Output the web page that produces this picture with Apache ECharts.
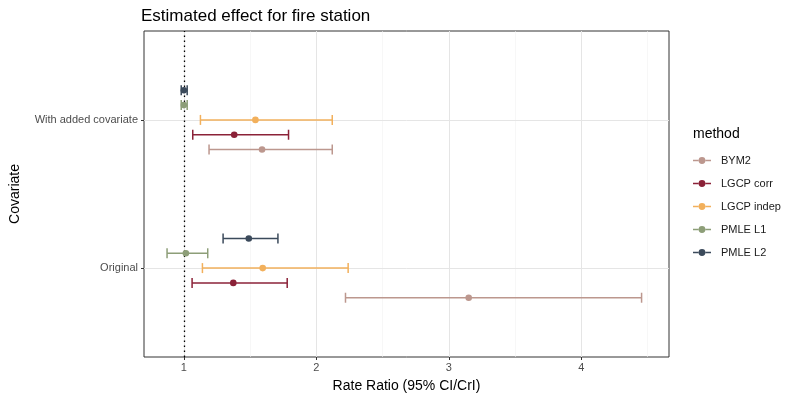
<!DOCTYPE html>
<html>
<head>
<meta charset="utf-8">
<script src="https://cdn.jsdelivr.net/npm/echarts@6/dist/echarts.min.js"></script>
<style>
html,body{margin:0;padding:0;background:#fff;}
#chart{width:800px;height:400px;}
</style>
</head>
<body>
<div id="chart"></div>
<script>
// covariate levels, bottom to top
var covariates = ['Original', 'With added covariate'];
var methods = ['BYM2', 'LGCP corr', 'LGCP indep', 'PMLE L1', 'PMLE L2'];
var colors = ['#bc978e', '#8b2238', '#f2b05c', '#8d9e78', '#3b4a5b'];

// per method: [Original, With added covariate]
var estimate = [
  [3.15, 1.59],
  [1.373, 1.38],
  [1.595, 1.54],
  [1.015, 1.0],
  [1.49, 1.0]
];
var lower = [
  [2.22, 1.19],
  [1.062, 1.067],
  [1.14, 1.125],
  [0.873, 0.98],
  [1.296, 0.98]
];
var upper = [
  [4.455, 2.12],
  [1.78, 1.79],
  [2.24, 2.12],
  [1.18, 1.025],
  [1.71, 1.025]
];
var xTicks = [1, 2, 3, 4];
var xMinor = [1.5, 2.5, 3.5, 4.5];

var font = 'Liberation Sans, Arial, sans-serif';
var dodge = 0.1;

function renderBar(params, api) {
  var lo = api.coord([api.value(0), api.value(3)]);
  var hi = api.coord([api.value(1), api.value(3)]);
  var pt = api.coord([api.value(2), api.value(3)]);
  var col = api.visual('color');
  var cap = 5;
  var ls = {stroke: col, lineWidth: 1.5};
  return {
    type: 'group',
    children: [
      {type: 'line', shape: {x1: lo[0], y1: lo[1], x2: hi[0], y2: hi[1]}, style: ls},
      {type: 'line', shape: {x1: lo[0], y1: lo[1] - cap, x2: lo[0], y2: lo[1] + cap}, style: ls},
      {type: 'line', shape: {x1: hi[0], y1: hi[1] - cap, x2: hi[0], y2: hi[1] + cap}, style: ls},
      {type: 'circle', shape: {cx: pt[0], cy: pt[1], r: 3.3}, style: {fill: col}}
    ]
  };
}

var series = [];
methods.forEach(function (m, i) {
  var off = (i - 2) * dodge;
  var data = covariates.map(function (c, j) {
    return [lower[i][j], upper[i][j], estimate[i][j], j + 1 + off];
  });
  series.push({
    type: 'custom',
    name: m,
    color: colors[i],
    renderItem: renderBar,
    encode: {x: [0, 1, 2], y: 3},
    data: data,
    z: 5
  });
});

// grid lines and reference line
var gridLines = [];
xMinor.forEach(function (v) {
  gridLines.push({xAxis: v, lineStyle: {color: '#f2f2f2', width: 0.6, type: 'solid'}});
});
xTicks.forEach(function (v) {
  gridLines.push({xAxis: v, lineStyle: {color: '#e5e5e5', width: 1, type: 'solid'}});
});
covariates.forEach(function (c, j) {
  gridLines.push({yAxis: j + 1, lineStyle: {color: '#e5e5e5', width: 1, type: 'solid'}});
});
series.unshift({
  type: 'line',
  data: [],
  silent: true,
  z: 1,
  markLine: {
    silent: true,
    symbol: 'none',
    animation: false,
    label: {show: false},
    data: gridLines
  }
});
series.push({
  type: 'line',
  data: [],
  silent: true,
  z: 3,
  markLine: {
    silent: true,
    symbol: 'none',
    animation: false,
    label: {show: false},
    data: [{xAxis: 1, lineStyle: {color: '#000', width: 1.3, type: [1.5, 3.5]}}]
  }
});

// line through a dot, drawn as separate pieces so nothing is hollow
var legendIcon = 'path://M0,2.6h5.8v1.6h-5.8z M12.2,2.6h5.8v1.6h-5.8z M5.6,3.4a3.4,3.4 0 1,0 6.8,0a3.4,3.4 0 1,0 -6.8,0z';

var option = {
  animation: false,
  textStyle: {fontFamily: font},
  title: [
    {text: 'Estimated effect for fire station', left: 136, top: 3,
      textStyle: {fontSize: 17, fontWeight: 'normal', color: '#000', fontFamily: font}},
    {text: 'method', left: 688, top: 122,
      textStyle: {fontSize: 14, fontWeight: 'normal', color: '#000', fontFamily: font}}
  ],
  legend: {
    orient: 'vertical',
    left: 688,
    top: 150,
    itemWidth: 18,
    itemHeight: 7,
    itemGap: 12,
    icon: legendIcon,
    textStyle: {fontSize: 11, color: '#1a1a1a', fontFamily: font, padding: [0, 0, 0, 5]},
    data: methods
  },
  grid: {
    left: 142, right: 131, top: 31, bottom: 43,
    show: true, borderColor: '#333', borderWidth: 1, backgroundColor: '#fff'
  },
  xAxis: {
    type: 'value',
    min: 0.699,
    max: 4.662,
    name: 'Rate Ratio (95% CI/CrI)',
    nameLocation: 'middle',
    nameGap: 22,
    nameTextStyle: {fontSize: 14, color: '#000', fontFamily: font},
    axisLine: {show: false},
    splitLine: {show: false},
    axisTick: {show: true, customValues: xTicks, length: 3, lineStyle: {color: '#333'}},
    axisLabel: {customValues: xTicks, color: '#4d4d4d', fontSize: 11, margin: 5}
  },
  yAxis: {
    type: 'value',
    min: 0.4,
    max: 2.6,
    name: 'Covariate',
    nameLocation: 'middle',
    nameGap: 122,
    nameRotate: 90,
    nameTextStyle: {fontSize: 14, color: '#000', fontFamily: font},
    axisLine: {show: false},
    splitLine: {show: false},
    axisTick: {show: true, customValues: [1, 2], length: 3, lineStyle: {color: '#333'}},
    axisLabel: {
      customValues: [1, 2], color: '#4d4d4d', fontSize: 11, margin: 6,
      formatter: function (v) { return covariates[Math.round(v) - 1]; }
    }
  },
  series: series
};

var myChart = echarts.init(document.getElementById('chart'));
myChart.setOption(option);
</script>
</body>
</html>
